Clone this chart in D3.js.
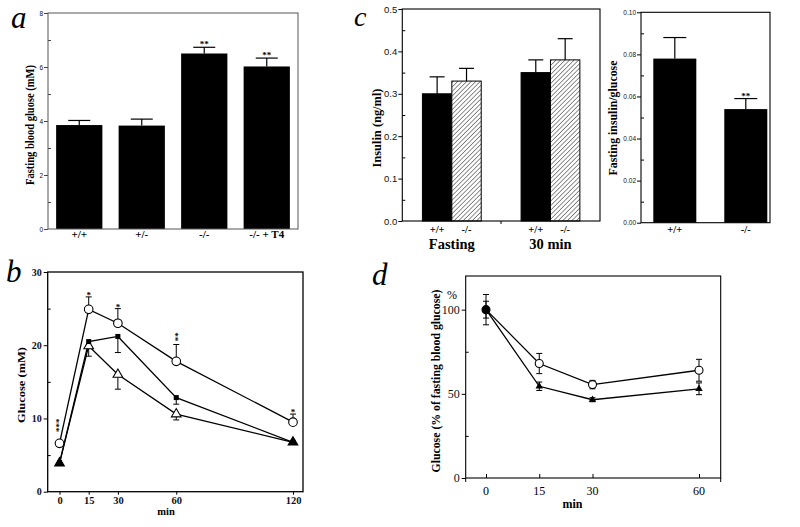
<!DOCTYPE html>
<html><head><meta charset="utf-8">
<script src="https://cdn.jsdelivr.net/npm/d3@7"></script>
<style>body{margin:0;background:#fff}svg{display:block}</style>
</head><body>
<svg id="c" width="800" height="527"></svg>
<script>
// ---------- data ----------
const aGroups = ["+/+", "+/-", "-/-", "-/- + T4"];
const aGlucose = [3.85, 3.83, 6.50, 6.02];
const aErr = [0.17, 0.24, 0.23, 0.31];
const aSig = ["", "", "**", "**"];
const aTicks = [0, 2, 4, 6, 8];

const bTime = [0, 15, 30, 60, 120];
const bKO = [6.6, 24.9, 23.0, 17.8, 9.5];
const bKOErr = [0, 1.7, 2.0, 2.3, 1.1];
const bKOSig = ["***", "*", "*", "**", "*"];
const bWT = [3.9, 20.5, 21.2, 12.85, 6.75];
const bWTErr = [0, 0, 2.2, 0.9, 0];
const bHet = [3.9, 19.9, 16.0, 10.6, 6.75];
const bHetErr = [0, 1.4, 2.0, 0.8, 0];
const bYTicks = [0, 10, 20, 30];

const cTimes = ["Fasting", "30 min"];
const cGenotypes = ["+/+", "-/-"];
const cInsulinWT = [0.30, 0.35];
const cInsulinKO = [0.33, 0.38];
const cInsulinWTErr = [0.04, 0.03];
const cInsulinKOErr = [0.03, 0.05];
const cYTicks = [0, 0.1, 0.2, 0.3, 0.4, 0.5];

const cRatioGroups = ["+/+", "-/-"];
const cRatio = [0.078, 0.054];
const cRatioErr = [0.010, 0.005];
const cRatioSig = ["", "**"];
const cRatioTicks = [0, 0.02, 0.04, 0.06, 0.08, 0.10];

const dTime = [0, 15, 30, 60];
const dKO = [100, 68, 55.5, 64];
const dKOErr = [9, 6, 2.5, 6.5];
const dWT = [100, 54.5, 46.5, 53];
const dWTErr = [5, 2.5, 1.2, 3.5];
const dYTicks = [0, 50, 100];

// ---------- helpers ----------
const SERIF = "'Liberation Serif','Times New Roman',serif";
const SANS = "'Liberation Sans',Arial,sans-serif";
const svg = d3.select("#c");
svg.append("rect").attr("width", 800).attr("height", 527).attr("fill", "#fff");

const defs = svg.append("defs");
const pat = defs.append("pattern").attr("id", "hatch").attr("patternUnits", "userSpaceOnUse")
  .attr("width", 3.2).attr("height", 3.2).attr("patternTransform", "rotate(45)");
pat.append("rect").attr("width", 3.2).attr("height", 3.2).attr("fill", "#fff");
pat.append("line").attr("x1", 0).attr("y1", 0).attr("x2", 0).attr("y2", 3.2)
  .attr("stroke", "#333").attr("stroke-width", 1.1);

function frame(g, x0, x1, y0, y1, color, w) {
  g.append("rect").attr("x", x0).attr("y", y0).attr("width", x1 - x0).attr("height", y1 - y0)
    .attr("fill", "none").attr("stroke", color).attr("stroke-width", w);
}
function yAxes(g, y, x0, major, minor, fmt, font, size, weight, pad, color) {
  const ax = g.append("g").attr("transform", `translate(${x0},0)`)
    .call(d3.axisLeft(y).tickValues(major).tickSize(4).tickPadding(pad).tickFormat(fmt));
  ax.select(".domain").remove();
  ax.selectAll("line").attr("stroke", color);
  ax.selectAll("text").attr("font-family", font).attr("font-size", size)
    .attr("font-weight", weight).attr("fill", "#111");
  const mi = g.append("g").attr("transform", `translate(${x0},0)`)
    .call(d3.axisRight(y).tickValues(minor).tickSize(3).tickFormat(""));
  mi.select(".domain").remove();
  mi.selectAll("line").attr("stroke", color);
}
function rotLabel(g, text, xb, yc, size, len) {
  g.append("text").attr("transform", `translate(${xb},${yc}) rotate(-90)`)
    .attr("text-anchor", "middle").attr("font-family", SERIF).attr("font-weight", "bold")
    .attr("font-size", size).attr("textLength", len).attr("lengthAdjust", "spacingAndGlyphs")
    .text(text);
}
function letter(txt, x, y, size) {
  svg.append("text").attr("x", x).attr("y", y).attr("font-family", SERIF)
    .attr("font-style", "italic").attr("font-size", size || 31).text(txt);
}
function errBar(g, x, yTop, yBase, cap, w) {
  g.append("line").attr("x1", x).attr("x2", x).attr("y1", yBase).attr("y2", yTop)
    .attr("stroke", "#000").attr("stroke-width", w || 1);
  g.append("line").attr("x1", x - cap / 2).attr("x2", x + cap / 2).attr("y1", yTop).attr("y2", yTop)
    .attr("stroke", "#000").attr("stroke-width", w || 1);
}
function stars(g, txt, x, yc, size) {
  g.append("text").attr("x", x).attr("y", yc + size * 0.55).attr("text-anchor", "middle")
    .attr("font-family", SERIF).attr("font-weight", "bold").attr("font-size", size).text(txt);
}
function vstars(g, txt, x, yc, size) {
  g.append("text").attr("transform", `translate(${x + size * 0.53},${yc}) rotate(-90)`)
    .attr("text-anchor", "middle").attr("font-family", SERIF).attr("font-weight", "bold")
    .attr("font-size", size).text(txt);
}

// ---------- panel a ----------
{
  const g = svg.append("g");
  const x = d3.scaleBand().domain(aGroups).range([48, 298]).paddingInner(0.26).paddingOuter(0.13);
  const y = d3.scaleLinear().domain([0, 8]).range([229, 13]);
  yAxes(g, y, 48, aTicks, [1, 3, 5, 7], d3.format("d"), SANS, 6.5, "normal", 1, "#444");
  aGroups.forEach((k, i) => {
    const cx = x(k) + x.bandwidth() / 2;
    errBar(g, cx, y(aGlucose[i] + aErr[i]), y(aGlucose[i]), 22, 1.2);
    g.append("rect").attr("x", x(k)).attr("y", y(aGlucose[i])).attr("width", x.bandwidth())
      .attr("height", y(0) - y(aGlucose[i])).attr("fill", "#000");
    if (aSig[i]) stars(g, aSig[i], cx, y(aGlucose[i] + aErr[i]) - 5, 9);
    g.append("text").attr("x", cx).attr("y", 238).attr("text-anchor", "middle")
      .attr("font-family", SERIF).attr("font-weight", "bold").attr("font-size", 11).text(k);
  });
  frame(g, 48, 298, 13, 229, "#555", 1);
  rotLabel(g, "Fasting blood gluose (mM)", 34, 125, 13, 120);
  letter("a", 11, 28);
}

// ---------- panel b ----------
{
  const g = svg.append("g");
  const x = d3.scaleLinear().domain([0, 120]).range([59.5, 293]);
  const y = d3.scaleLinear().domain([0, 30]).range([491.7, 272]);
  yAxes(g, y, 47.7, bYTicks, [5, 15, 25], d3.format("d"), SERIF, 10, "bold", 2, "#000");
  const xa = g.append("g").attr("transform", "translate(0,491.7)")
    .call(d3.axisBottom(x).tickValues(bTime).tickSize(3).tickPadding(1.5).tickFormat(d3.format("d")));
  xa.select(".domain").remove();
  xa.selectAll("text").attr("font-family", SERIF).attr("font-weight", "bold").attr("font-size", 10.5).attr("fill", "#111");
  frame(g, 47.7, 303, 272, 491.7, "#000", 1.3);
  bTime.forEach((t, i) => {
    if (bKOErr[i]) errBar(g, x(t), y(bKO[i] + bKOErr[i]), y(bKO[i]), 6);
    if (bWTErr[i]) errBar(g, x(t), y(bWT[i] - bWTErr[i]), y(bWT[i]), 6);
    if (bHetErr[i]) errBar(g, x(t), y(bHet[i] - bHetErr[i]), y(bHet[i]), 6);
  });
  const line = d3.line().x((d, i) => x(bTime[i])).y(d => y(d));
  [bKO, bWT, bHet].forEach(s => g.append("path").attr("d", line(s)).attr("fill", "none")
    .attr("stroke", "#000").attr("stroke-width", 1.3));
  bHet.forEach((v, i) => g.append("path").attr("d", d3.symbol(d3.symbolTriangle, 40)())
    .attr("transform", `translate(${x(bTime[i])},${y(v)})`).attr("fill", "#fff").attr("stroke", "#000").attr("stroke-width", 1.1));
  bWT.forEach((v, i) => g.append("rect").attr("x", x(bTime[i]) - 2.5).attr("y", y(v) - 2.5)
    .attr("width", 5).attr("height", 5).attr("fill", "#000"));
  bHet.forEach((v, i) => { if (Math.abs(v - bWT[i]) < 0.2) g.append("path").attr("d", d3.symbol(d3.symbolTriangle, 40)())
    .attr("transform", `translate(${x(bTime[i])},${y(v)})`).attr("fill", "#000"); });
  bKO.forEach((v, i) => g.append("circle").attr("cx", x(bTime[i])).attr("cy", y(v)).attr("r", 4.3)
    .attr("fill", "#fff").attr("stroke", "#000").attr("stroke-width", 1.1));
  bKOSig.forEach((s, i) => {
    const top = bKOErr[i] ? y(bKO[i] + bKOErr[i]) : y(bKO[i]) - 8;
    if (s.length === 1) stars(g, s, x(bTime[i]), top - 4, 9);
    else vstars(g, s, x(bTime[i]) - (i === 0 ? 2 : 0), top - 3 - s.length * 2.4, 9);
  });
  g.append("text").attr("x", 166).attr("y", 515).attr("text-anchor", "middle").attr("font-family", SERIF)
    .attr("font-weight", "bold").attr("font-size", 10.5).text("min");
  rotLabel(g, "Glucose (mM)", 24.5, 385, 11, 76);
  letter("b", 6, 282);
}

// ---------- panel c (left) ----------
{
  const g = svg.append("g");
  const x0 = d3.scaleBand().domain(cTimes).range([402.3, 600]).paddingInner(0.404).paddingOuter(0.204);
  const x1 = d3.scaleBand().domain(cGenotypes).range([0, x0.bandwidth()]);
  const y = d3.scaleLinear().domain([0, 0.5]).range([221, 9]);
  yAxes(g, y, 402.3, cYTicks, [0.05, 0.15, 0.25, 0.35, 0.45], d3.format(".1f"), SANS, 9.5, "normal", 1, "#000");
  cTimes.forEach((t, i) => {
    const vals = [cInsulinWT[i], cInsulinKO[i]];
    const errs = [cInsulinWTErr[i], cInsulinKOErr[i]];
    cGenotypes.forEach((gt, j) => {
      const bx = x0(t) + x1(gt), cx = bx + x1.bandwidth() / 2;
      errBar(g, cx, y(vals[j] + errs[j]), y(vals[j]), 15, 1.2);
      g.append("rect").attr("x", bx).attr("y", y(vals[j])).attr("width", x1.bandwidth())
        .attr("height", y(0) - y(vals[j])).attr("fill", j ? "url(#hatch)" : "#000")
        .attr("stroke", "#000").attr("stroke-width", 1);
      g.append("text").attr("x", cx).attr("y", 233).attr("text-anchor", "middle")
        .attr("font-family", SERIF).attr("font-weight", "bold").attr("font-size", 10.5).text(gt);
    });
    g.append("text").attr("x", x0(t) + x0.bandwidth() / 2).attr("y", 249).attr("text-anchor", "middle")
      .attr("font-family", SERIF).attr("font-weight", "bold").attr("font-size", 14.5).text(t);
  });
  g.append("line").attr("x1", 501).attr("x2", 501).attr("y1", 221).attr("y2", 224).attr("stroke", "#000");
  frame(g, 402.3, 600, 9, 221, "#000", 1.1);
  rotLabel(g, "Insulin (ng/ml)", 380.5, 128, 12.5, 79);
  letter("c", 354, 25.5, 28);
}

// ---------- panel c (right) ----------
{
  const g = svg.append("g");
  const x = d3.scaleBand().domain(cRatioGroups).range([641, 770]).paddingInner(0.394).paddingOuter(0.1056).align(0.82);
  const y = d3.scaleLinear().domain([0, 0.10]).range([222.7, 12.3]);
  yAxes(g, y, 641, cRatioTicks, [0.01, 0.03, 0.05, 0.07, 0.09], d3.format(".2f"), SANS, 6.5, "normal", 1, "#000");
  cRatioGroups.forEach((k, i) => {
    const cx = x(k) + x.bandwidth() / 2;
    errBar(g, cx, y(cRatio[i] + cRatioErr[i]), y(cRatio[i]), 23, 1.2);
    g.append("rect").attr("x", x(k)).attr("y", y(cRatio[i])).attr("width", x.bandwidth())
      .attr("height", y(0) - y(cRatio[i])).attr("fill", "#000");
    if (cRatioSig[i]) stars(g, cRatioSig[i], cx, y(cRatio[i] + cRatioErr[i]) - 4.5, 9);
    g.append("text").attr("x", cx).attr("y", 233).attr("text-anchor", "middle")
      .attr("font-family", SERIF).attr("font-weight", "bold").attr("font-size", 10.5).text(k);
  });
  frame(g, 641, 770, 12.3, 222.7, "#000", 1.1);
  rotLabel(g, "Fasting insulin/glucose", 617, 118, 12.5, 115);
}

// ---------- panel d ----------
{
  const g = svg.append("g");
  const x = d3.scaleLinear().domain([0, 60]).range([486, 699]);
  const y = d3.scaleLinear().domain([0, 120]).range([478, 276]);
  yAxes(g, y, 465.7, dYTicks, [25, 75], d3.format("d"), SERIF, 12, "normal", 2, "#000");
  const xa = g.append("g").attr("transform", "translate(0,478)")
    .call(d3.axisTop(x).tickValues(dTime).tickSize(4).tickFormat(""));
  xa.select(".domain").remove();
  dTime.forEach(t => g.append("text").attr("x", x(t)).attr("y", 495).attr("text-anchor", "middle")
    .attr("font-family", SERIF).attr("font-size", 12).text(d3.format("d")(t)));
  [465.7, 720.7].forEach(xx => g.append("line").attr("x1", xx).attr("x2", xx).attr("y1", 478).attr("y2", 482).attr("stroke", "#000"));
  frame(g, 465.7, 720.7, 276, 478, "#000", 1.1);
  dTime.forEach((t, i) => {
    errBar(g, x(t), y(dKO[i] + dKOErr[i]), y(dKO[i]), 6);
    errBar(g, x(t), y(dKO[i] - dKOErr[i]), y(dKO[i]), 6);
    errBar(g, x(t), y(dWT[i] + dWTErr[i]), y(dWT[i]), 6);
    errBar(g, x(t), y(dWT[i] - dWTErr[i]), y(dWT[i]), 6);
  });
  const line = d3.line().x((d, i) => x(dTime[i])).y(d => y(d));
  [dKO, dWT].forEach(s => g.append("path").attr("d", line(s)).attr("fill", "none")
    .attr("stroke", "#000").attr("stroke-width", 1.3));
  dKO.forEach((v, i) => g.append("circle").attr("cx", x(dTime[i])).attr("cy", y(v)).attr("r", 4)
    .attr("fill", i === 0 ? "#000" : "#fff").attr("stroke", "#000").attr("stroke-width", 1.1));
  dWT.forEach((v, i) => g.append("path").attr("d", d3.symbol(d3.symbolTriangle, 24)())
    .attr("transform", `translate(${x(dTime[i])},${y(v)})`).attr("fill", "#000"));
  g.append("text").attr("x", 452).attr("y", 299).attr("text-anchor", "middle")
    .attr("font-family", SERIF).attr("font-size", 12).text("%");
  g.append("text").attr("x", 572.5).attr("y", 508).attr("text-anchor", "middle").attr("font-family", SERIF)
    .attr("font-weight", "bold").attr("font-size", 12).text("min");
  rotLabel(g, "Glucose (% of fasting blood glucose)", 440, 381, 13.5, 183);
  letter("d", 372, 285);
}
</script>
</body></html>
